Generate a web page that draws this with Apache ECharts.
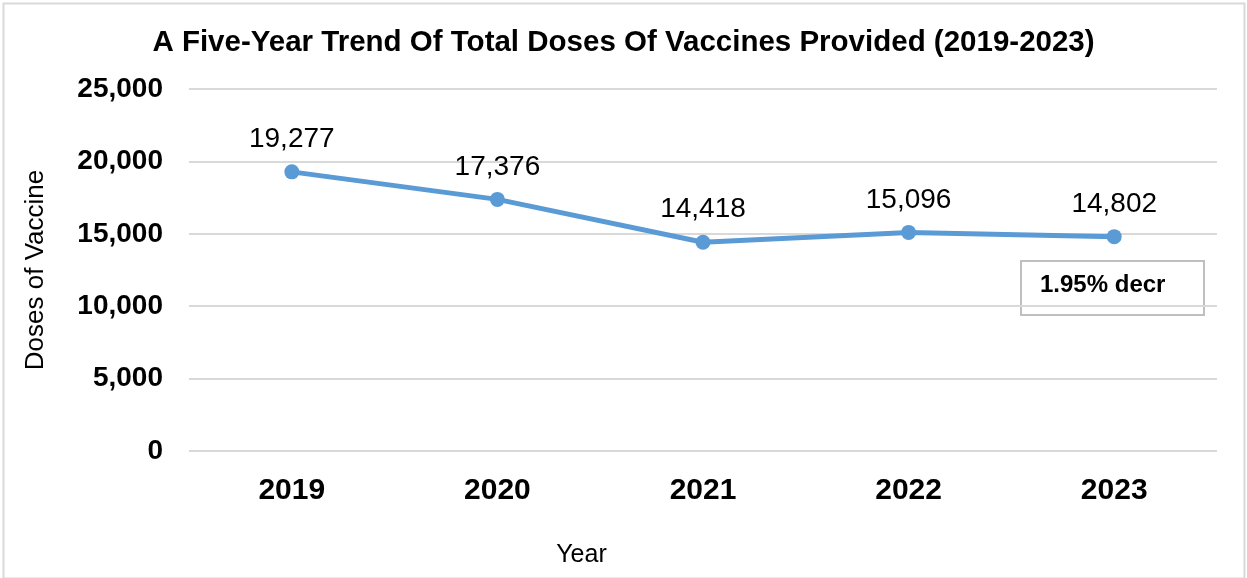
<!DOCTYPE html>
<html>
<head>
<meta charset="utf-8">
<title>Total Doses of Vaccines Provided</title>
<script src="https://cdn.jsdelivr.net/npm/echarts@6/dist/echarts.min.js"></script>
<style>
  html, body { margin: 0; padding: 0; background: #fff; }
  #chart { width: 1247px; height: 578px; }
</style>
</head>
<body>
<div id="chart"></div>
<script>
// Yearly totals of vaccine doses
const years = ['2019', '2020', '2021', '2022', '2023'];
const doses = [19277, 17376, 14418, 15096, 14802];
const yTicks = [0, 5000, 10000, 15000, 20000, 25000];
const noteText = '1.95% decr';

const FONT = '"Liberation Sans", Arial, sans-serif';
const fmt = v => v.toLocaleString('en-US');

const chart = echarts.init(document.getElementById('chart'), null, { renderer: 'canvas' });

chart.setOption({
  backgroundColor: '#ffffff',
  animation: false,
  title: {
    text: 'A Five-Year Trend Of Total Doses Of Vaccines Provided (2019-2023)',
    left: 'center',
    top: 23,
    textStyle: { fontFamily: FONT, fontSize: 29.5, fontWeight: 'bold', color: '#000' }
  },
  grid: {
    left: 189, right: 30, top: 89, bottom: 127,
    containLabel: false,
    outerBoundsMode: 'none'
  },
  xAxis: {
    type: 'category',
    data: years,
    boundaryGap: true,
    name: 'Year',
    nameLocation: 'middle',
    nameGap: 92,
    nameTextStyle: {
      fontFamily: FONT, fontSize: 25, color: '#000',
      padding: [0, 243, 0, 0]
    },
    axisLine: { show: false },
    axisTick: { show: false },
    axisLabel: { fontFamily: FONT, fontSize: 30, fontWeight: 'bold', color: '#000', margin: 25 }
  },
  yAxis: {
    type: 'value',
    min: yTicks[0],
    max: yTicks[yTicks.length - 1],
    interval: 5000,
    name: 'Doses of Vaccine',
    nameLocation: 'middle',
    nameGap: 140,
    nameTextStyle: { fontFamily: FONT, fontSize: 26, color: '#000' },
    axisLine: { show: false },
    axisTick: { show: false },
    splitLine: { lineStyle: { color: '#d9d9d9', width: 2 } },
    axisLabel: {
      fontFamily: FONT, fontSize: 28, fontWeight: 'bold', color: '#000', margin: 26,
      formatter: v => fmt(v)
    }
  },
  series: [{
    type: 'line',
    data: doses,
    symbol: 'circle',
    symbolSize: 15,
    lineStyle: { color: '#5b9bd5', width: 5 },
    itemStyle: { color: '#5b9bd5' },
    label: {
      show: true,
      position: 'top',
      distance: 11,
      fontFamily: FONT,
      fontSize: 28,
      color: '#000',
      formatter: p => fmt(p.value)
    }
  }],
  graphic: [
    {
      type: 'rect',
      left: 1,
      top: 1,
      shape: { width: 1241, height: 575 },
      style: { fill: 'none', stroke: '#d9d9d9', lineWidth: 2 },
      silent: true
    },
    {
      type: 'group',
      left: 1020,
      top: 260,
      children: [
        {
          type: 'rect',
          shape: { width: 183, height: 54 },
          style: { fill: '#fff', stroke: '#bfbfbf', lineWidth: 2 }
        },
        {
          type: 'text',
          left: 19,
          top: 12,
          style: {
            text: noteText,
            font: 'bold 24px ' + FONT,
            fill: '#000'
          }
        }
      ]
    }
  ]
});
</script>
</body>
</html>
